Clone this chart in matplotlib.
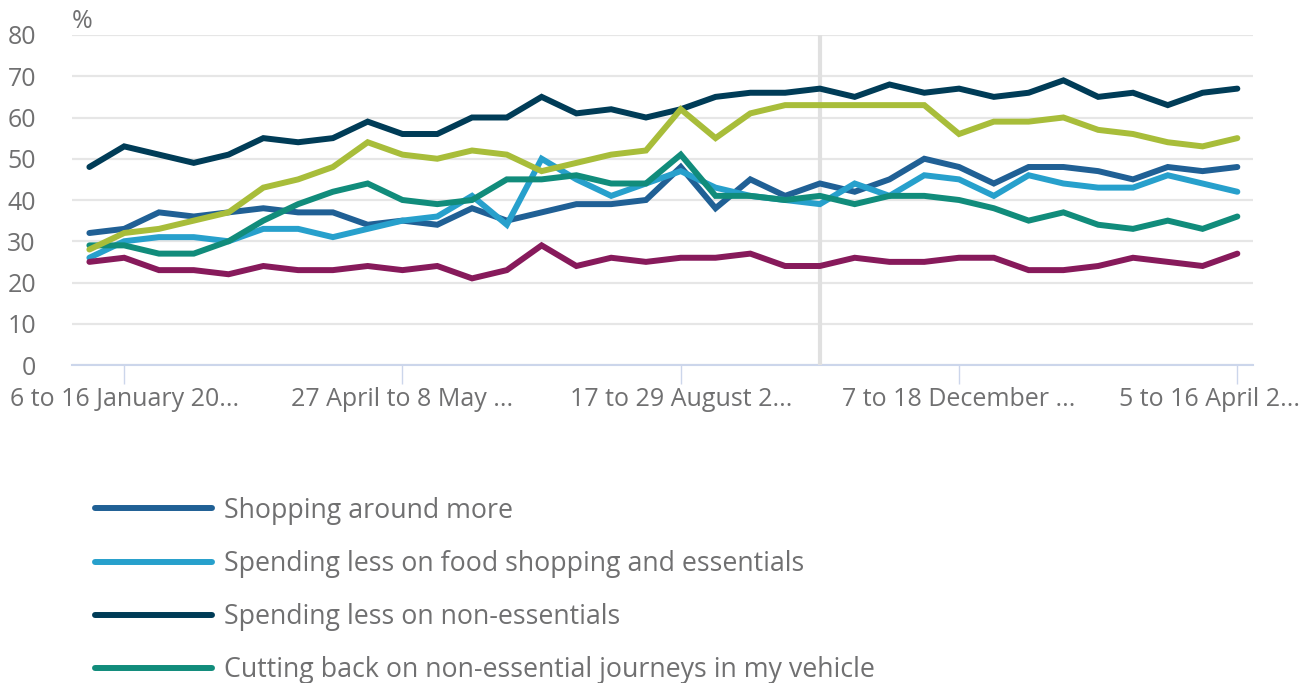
import numpy as np
import matplotlib
matplotlib.use("Agg")
import matplotlib.pyplot as plt
from matplotlib.transforms import ScaledTranslation

plt.rcParams['font.family'] = ['Open Sans', 'DejaVu Sans']

# survey periods (only the labelled ones are shown on the axis)
tick_labels = ["6 to 16 January 20...", "27 April to 8 May ...", "17 to 29 August 2...",
               "7 to 18 December ...", "5 to 16 April 2..."]

shopping_around = [32, 33, 37, 36, 37, 38, 37, 37, 34, 35, 34, 38, 35, 37, 39, 39, 40,
                   48, 38, 45, 41, 44, 42, 45, 50, 48, 44, 48, 48, 47, 45, 48, 47, 48]
less_food = [26, 30, 31, 31, 30, 33, 33, 31, 33, 35, 36, 41, 34, 50, 45, 41, 44,
             47, 43, 41, 40, 39, 44, 41, 46, 45, 41, 46, 44, 43, 43, 46, 44, 42]
less_non_essentials = [48, 53, 51, 49, 51, 55, 54, 55, 59, 56, 56, 60, 60, 65, 61, 62, 60,
                       62, 65, 66, 66, 67, 65, 68, 66, 67, 65, 66, 69, 65, 66, 63, 66, 67]
fewer_journeys = [29, 29, 27, 27, 30, 35, 39, 42, 44, 40, 39, 40, 45, 45, 46, 44, 44,
                  51, 41, 41, 40, 41, 39, 41, 41, 40, 38, 35, 37, 34, 33, 35, 33, 36]
less_energy = [28, 32, 33, 35, 37, 43, 45, 48, 54, 51, 50, 52, 51, 47, 49, 51, 52,
               62, 55, 61, 63, 63, 63, 63, 63, 56, 59, 59, 60, 57, 56, 54, 53, 55]
using_savings = [25, 26, 23, 23, 22, 24, 23, 23, 24, 23, 24, 21, 23, 29, 24, 26, 25,
                 26, 26, 27, 24, 24, 26, 25, 25, 26, 26, 23, 23, 24, 26, 25, 24, 27]

series = [
    ("Shopping around more", shopping_around, "#206095"),
    ("Spending less on food shopping and essentials", less_food, "#27a0cc"),
    ("Spending less on non-essentials", less_non_essentials, "#003c57"),
    ("Cutting back on non-essential journeys in my vehicle", fewer_journeys, "#118c7b"),
    ("Using less fuel such as gas or electricity in my home", less_energy, "#a8bd3a"),
    ("Using savings to cover costs", using_savings, "#871a5b"),
]

grey = "#707071"
fig = plt.figure(figsize=(13.09, 6.83), dpi=100)
ax = fig.add_axes([72 / 1309, 1 - 365 / 683, (1253 - 72) / 1309, 330 / 683])

x = np.arange(len(shopping_around))
for label, vals, col in series:
    ax.plot(x, vals, color=col, lw=4.3, label=label, solid_capstyle='round',
            solid_joinstyle='miter', zorder=3)

ax.axvline(21, color="#e0e0e0", lw=3, zorder=2)

ax.set_ylim(0, 80)
ax.set_xlim(-0.5, 33.45)
ax.set_yticks(range(0, 81, 10))
ax.yaxis.grid(True, color="#e6e6e6", lw=1.6)
ax.set_axisbelow(True)
for s in ["top", "right", "left"]:
    ax.spines[s].set_visible(False)
ax.spines["bottom"].set_color("#ccd6eb")
ax.spines["bottom"].set_linewidth(1.5)
ax.spines["bottom"].set_zorder(1)

ax.set_xticks(x[1::8])
ax.set_xticklabels(tick_labels)
ax.tick_params(axis="x", length=14, width=1, color="#ccd6eb", colors=grey,
               labelsize=18, pad=2)
ax.tick_params(axis="y", length=0, colors=grey, labelsize=18, pad=26)
for t in ax.get_yticklabels():
    t.set_horizontalalignment("right")
# last label pushed left so it stays inside the chart
last = ax.get_xticklabels()[-1]
last.set_horizontalalignment("right")
last.set_transform(last.get_transform() + ScaledTranslation(0.63, 0, fig.dpi_scale_trans))

fig.text(72 / 1309, 1 - 21 / 683, "%", color=grey, fontsize=18, va="center", ha="left")

leg = fig.legend(loc="upper left", bbox_to_anchor=(84 / 1309, 1 - 486 / 683), frameon=False,
                 fontsize=19.3, handlelength=4.37, handletextpad=0.45, labelspacing=0.94,
                 borderaxespad=0)
for t in leg.get_texts():
    t.set_color(grey)
for h in leg.get_lines():
    h.set_linewidth(4.3)

fig.savefig("out.png", dpi=100)
